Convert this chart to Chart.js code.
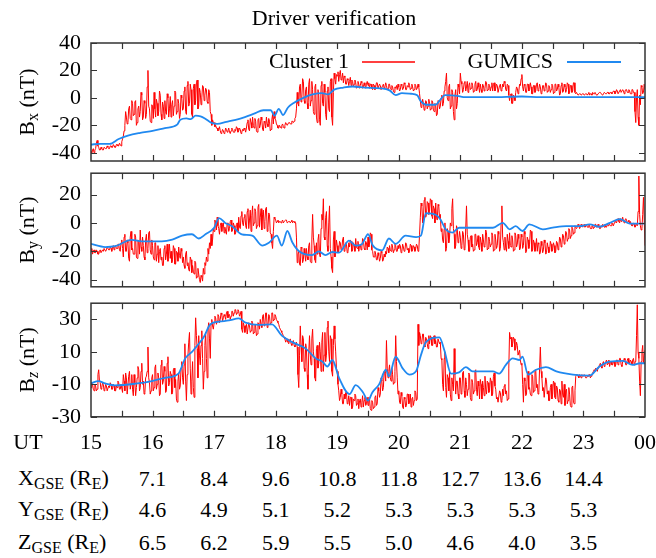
<!DOCTYPE html>
<html>
<head>
<meta charset="utf-8">
<title>Driver verification</title>
<script src="https://cdn.jsdelivr.net/npm/chart.js@4.4.0/dist/chart.umd.min.js"></script>
<style>
  html, body { margin: 0; padding: 0; background: #fff; }
  body { width: 656px; height: 558px; position: relative; overflow: hidden;
         font-family: "Liberation Serif", "DejaVu Serif", serif; color: #000; }
  canvas { position: absolute; left: 0; }
  .txt { position: absolute; font-size: 22px; line-height: 24px; white-space: nowrap; }
  .mid { transform: translate(-50%, -50%); }
  .rot { transform: translate(-50%, -50%) rotate(-90deg); }
  .sub { font-size: 16px; position: relative; top: 4px; }
</style>
</head>
<body>
<canvas id="bx" width="656" height="190" style="top:0px"></canvas>
<canvas id="by" width="656" height="160" style="top:150px"></canvas>
<canvas id="bz" width="656" height="160" style="top:280px"></canvas>
<script>
// time axis (UT hours) and the spacecraft position table
const utHours = [15, 16, 17, 18, 19, 20, 21, 22, 23, 24];
const utLabels = ['15', '16', '17', '18', '19', '20', '21', '22', '23', '00'];
const posHours = [16, 17, 18, 19, 20, 21, 22, 23];
const xGse = ['7.1', '8.4', '9.6', '10.8', '11.8', '12.7', '13.6', '14.4'];
const yGse = ['4.6', '4.9', '5.1', '5.2', '5.3', '5.3', '5.3', '5.3'];
const zGse = ['6.5', '6.2', '5.9', '5.5', '5.0', '4.6', '4.0', '3.5'];

// Cluster 1 samples, one every 0.0125 h from 15 UT (one row = half an hour)
const clusterStart = 15;
const clusterStep = 0.0125;
const clusterBx = [
  -39,-40,-38,-37,-40,-38,-37,-33,-31,-35,-36,-38,-38,-36,-37,-38,-38,-36,-36,-37,-37,-35,-36,-37,-37,-35,-35,-36,-36,-34,-35,-36,-36,-34,-34,-35,-35,-33,-34,-35,
  -32,-30,-28,-24,-20,-10,-14,-19,-18,-8,-6,-15,-16,-2,-4,-13,-12,-3,-2,-20,-18,-8,-6,-14,-10,4,2,-16,-14,-2,-4,-15,-12,8,20,-6,-8,-17,-18,-5,
  -6,-15,4,-8,-14,-1,-4,-13,-10,5,2,-12,-16,-3,-6,-15,-2,-10,-12,3,0,-14,-8,1,-14,-5,-2,-13,-6,5,4,-12,-10,-1,-4,-15,-12,2,0,-9,
  -8,5,8,-10,-12,9,12,-6,-4,10,6,-12,-14,7,10,-5,-2,11,13,-8,-6,7,4,-5,0,9,8,-2,2,7,6,-3,-4,6,4,-10,-12,-20,-16,-18,
  -18,-21,-20,-22,-22,-24,-23,-21,-24,-26,-25,-23,-24,-26,-25,-22,-23,-25,-24,-22,-25,-26,-24,-22,-23,-25,-25,-23,-24,-21,-22,-25,-24,-22,-23,-26,-25,-23,-24,-22,
  -23,-25,-22,-18,-16,-23,-24,-15,-18,-22,-14,-20,-22,-15,-17,-24,-25,-16,-15,-22,-20,-14,-16,-23,-24,-17,-18,-22,-14,-19,-21,-15,-17,-24,-23,-16,-12,-19,-10,-15,
  -16,-19,-20,-22,-22,-20,-21,-22,-20,-19,-21,-22,-20,-18,-19,-20,-20,-18,-18,-19,-19,-17,-17,-18,-17,-15,-14,-8,4,-4,-6,8,10,-3,0,14,12,-2,-4,6,
  8,-4,-8,10,14,-6,-2,12,6,-10,-12,8,10,-14,-18,6,2,-16,-20,9,12,-4,-6,10,4,-12,-16,5,8,-8,-10,12,14,-14,-20,4,18,14,10,17,
  16,19,12,17,20,13,14,18,11,16,15,10,10,14,13,9,12,15,9,13,12,8,10,13,11,7,8,12,10,7,9,12,11,7,8,11,9,7,10,12,
  9,11,7,10,10,7,6,10,9,6,8,11,11,7,7,10,9,6,6,9,10,7,8,11,9,6,7,10,10,7,6,9,8,5,4,8,7,9,6,10,
  8,5,6,10,9,6,7,11,10,6,6,9,8,11,9,6,7,10,8,5,6,10,9,6,7,10,8,3,-2,-7,-6,-1,-4,-9,-8,-2,-3,-8,-6,-1,
  -4,-9,-8,-2,-3,-9,-10,-4,-5,-13,-12,-2,-3,-8,-6,0,2,-6,-4,5,8,12,18,0,-2,8,10,-8,-6,6,4,-10,-16,2,6,-8,-4,10,8,3,
  18,12,10,4,6,11,12,5,8,12,4,9,11,6,7,11,9,4,5,10,12,5,6,11,8,4,10,6,4,10,9,5,7,12,11,5,6,10,9,5,
  8,11,5,10,11,5,7,10,9,4,4,9,10,5,6,10,8,12,11,6,5,10,9,2,-2,2,3,-4,-4,2,1,-2,4,8,7,3,5,10,9,14,
  17,8,5,10,9,4,4,10,10,5,6,11,8,3,3,9,9,4,5,10,11,5,6,10,8,3,4,9,9,5,7,11,10,4,5,9,8,4,6,10,
  9,3,4,10,10,5,6,10,8,2,3,9,11,4,5,10,8,4,6,11,10,3,4,9,9,4,5,11,11,4,3,4,3,2,2,3,3,2,2,3,
  3,2,2,3,3,2,3,4,2,3,3,2,4,3,3,4,3,2,2,3,3,4,4,3,3,2,3,4,4,3,3,4,4,3,3,4,4,3,4,5,
  5,3,4,6,5,3,3,5,6,4,4,6,5,3,5,6,6,4,4,6,5,3,3,6,6,4,4,-10,-18,0,6,-14,-20,2,-5,9,8,3,4,10,
  6
];
const clusterBy = [
  -20,-18,-22,-20,-19,-21,-21,-19,-20,-22,-22,-20,-19,-21,-21,-19,-20,-18,-18,-20,-19,-17,-17,-19,-19,-17,-18,-20,-17,-16,-19,-17,-16,-18,-18,-15,-15,-19,-20,-14,
  -12,-18,-24,-10,-8,-20,-20,-12,-14,-25,-27,-10,-6,-19,-18,-22,-22,-8,-10,-24,-25,-12,-14,-22,-5,-17,-20,-10,-16,-24,-26,-12,-8,-21,-18,-7,-6,-19,-22,-12,
  -16,-24,-26,-14,-14,-27,-22,-16,-28,-20,-18,-26,-24,-30,-30,-18,-16,-26,-22,-15,-27,-20,-15,-25,-20,-28,-26,-16,-18,-29,-29,-20,-21,-27,-17,-23,-25,-18,-20,-28,
  -24,-30,-32,-22,-20,-30,-28,-33,-34,-24,-26,-35,-30,-34,-36,-27,-28,-39,-38,-32,-36,-40,-42,-37,-38,-41,-32,-36,-28,-30,-24,-27,-18,-22,-14,-18,-8,-16,-12,-4,
  -6,2,0,-5,4,-2,-4,-8,-2,0,-6,-1,0,-7,-3,-6,-8,0,-1,-6,-4,1,2,-6,-5,0,-2,-8,-7,-1,0,-6,4,-3,-4,5,8,0,-2,4,
  6,-2,-4,8,10,-4,2,9,-6,5,12,-2,0,10,8,-4,-2,11,13,-3,4,10,-5,6,9,-4,1,10,11,-6,-3,7,6,-7,-8,-14,-18,-6,4,3,
  2,0,1,2,0,1,1,0,1,2,0,1,1,2,2,0,0,1,1,0,1,2,0,1,1,0,0,-10,-28,-22,-20,-29,-30,-17,-18,-28,-26,-18,-22,-27,
  -18,-24,-26,-16,-14,-27,-28,-12,6,-10,-16,-26,-28,-14,-22,-12,-8,-22,-24,-4,6,2,17,-10,-12,4,8,-16,-20,0,12,-18,-24,-32,-35,-12,-6,-24,-20,-12,
  -16,-21,-20,-13,-14,-19,-18,-12,-10,-20,-19,-14,-15,-21,-20,-14,-17,-12,-13,-20,-19,-14,-16,-20,-11,-17,-18,-13,-20,-16,-15,-19,-17,-11,-12,-18,-19,-13,-14,-19,
  -10,-17,-15,-7,-8,-19,-20,-24,-24,-20,-22,-26,-26,-21,-23,-27,-25,-20,-21,-27,-26,-22,-24,-20,-22,-17,-18,-21,-16,-19,-20,-15,-17,-21,-19,-15,-16,-20,-20,-16,
  -18,-15,-16,-21,-20,-15,-17,-20,-19,-14,-15,-19,-18,-21,-20,-15,-16,-20,-19,-16,-17,-20,-18,-15,-16,-20,-19,-8,4,14,12,0,2,16,18,4,6,15,14,6,
  8,17,16,5,3,12,10,0,14,4,2,13,12,3,6,-6,-4,-12,-14,-4,0,-20,-18,-4,-6,-14,-10,0,-2,10,17,-4,-8,-18,-16,-2,-4,-14,-12,-6,
  -10,-18,-16,-6,-8,-19,-18,-4,12,-8,-12,-20,-20,-10,-9,-17,-15,-20,-19,-8,-8,-16,-14,-9,-17,-19,-10,-14,-20,-8,-12,-17,-16,-5,-7,-19,-18,-10,-13,-17,
  -15,-7,-9,-20,-19,-8,-12,-18,-16,-6,-8,-20,-18,0,12,-10,-14,-19,-10,-17,-20,-8,-13,-18,-7,-16,-17,-9,-12,-20,-19,-7,-9,-17,-15,-8,-11,-19,-18,-8,
  -10,-18,-16,-6,-8,-21,-20,-10,-12,-18,-15,-5,-6,-20,-19,-12,-14,-20,-17,-11,-20,-14,-15,-22,-21,-13,-16,-21,-19,-12,-14,-22,-21,-14,-17,-21,-20,-13,-15,-20,
  -19,-14,-16,-21,-20,-13,-14,-19,-17,-10,-11,-17,-15,-8,-9,-15,-13,-6,-7,-13,-11,-4,-5,-11,-9,-3,-4,-8,-7,-2,-3,-4,-3,-1,-2,-4,-3,-1,-2,-3,
  -2,-1,-3,-2,-1,-3,-3,-1,-2,-4,-4,-2,-2,-4,-3,-1,-1,-3,-3,-1,-2,-4,-4,-2,-3,-1,-2,-3,-1,-3,-3,-1,-2,-1,-1,-2,-2,0,-1,-2,
  0,2,1,0,2,3,1,0,3,1,2,4,1,0,2,3,2,0,1,2,0,1,-1,-2,-2,0,-1,-3,-2,-1,-2,8,33,6,-2,-5,-4,6,18,2,
  -16
];
const clusterBz = [
  -12,-9,-10,-13,-14,-10,-11,-14,-13,-4,-1,-8,-9,-13,-12,-9,-10,-14,-13,-10,-11,-14,-14,-11,-12,-9,-10,-13,-13,-10,-11,-14,-14,-11,-12,-8,-9,-13,-13,-10,
  -10,-15,-4,-8,-14,-3,-6,-16,-16,-5,-2,-13,-10,-4,-13,-17,-4,-9,-17,-12,-6,1,-1,-14,-12,-2,3,-10,-8,-16,-15,-6,-5,-2,13,-6,-9,-16,-14,-6,
  -4,-14,-12,0,2,-13,-10,-3,-6,-17,-16,2,5,-10,-8,1,-2,-15,-14,3,7,-11,-9,-2,-4,-16,-15,-1,0,-12,-7,-19,-21,-8,-3,-13,-11,0,4,-6,
  -10,2,15,-8,-20,-4,8,16,22,0,-16,-8,4,-12,-18,14,31,20,12,-6,20,8,2,14,23,6,-13,-2,14,22,6,-6,24,28,18,6,27,30,26,24,
  28,32,31,27,29,33,32,28,30,34,33,29,31,33,32,30,34,35,31,33,33,30,32,35,35,32,34,36,36,33,34,36,35,32,33,35,24,22,28,26,
  22,26,27,21,21,28,26,22,23,29,28,21,22,27,26,20,21,28,27,24,30,27,25,32,33,26,27,34,34,25,26,33,32,27,28,34,34,29,30,33,
  32,30,29,28,27,25,24,23,22,21,20,19,18,16,17,18,16,15,17,18,15,14,16,17,14,13,15,16,13,-4,-12,8,26,14,4,20,18,0,-2,15,
  12,-4,-13,10,20,8,2,18,24,10,6,-6,-8,12,14,0,3,16,10,-2,16,22,-2,8,22,4,8,25,29,10,4,20,18,-2,-5,14,26,18,10,0,
  -2,-10,-14,-20,-18,-13,-16,-22,-22,-16,-19,-15,-15,-22,-21,-17,-23,-18,-18,-25,-24,-19,-20,-16,-17,-23,-22,-19,-25,-20,-19,-24,-21,-17,-24,-20,-18,-23,-22,-18,
  -23,-18,-19,-25,-26,-20,-21,-25,-24,-18,-17,-23,-22,-12,-14,-18,-16,-6,-8,-14,-12,-2,-3,-8,17,0,-6,-2,2,-6,-8,0,-4,-10,-9,-2,20,4,-6,-16,
  -14,-21,-22,-15,-17,-24,-25,-18,-19,-24,-23,-16,-16,-22,-21,-16,-24,-19,-18,-23,-20,-14,-15,-20,-19,27,14,22,20,15,16,21,21,14,13,19,18,15,12,20,
  15,20,19,14,14,19,20,15,17,13,13,18,18,15,16,6,5,-10,-14,6,10,-12,-18,-4,-6,-14,-2,-16,-20,-6,-10,-14,12,-4,-16,-8,-8,-16,-19,-6,
  -6,-16,-15,-3,-2,-14,-18,-6,-10,-17,-13,-3,-4,-18,-20,-7,-9,-16,-14,-2,-1,-13,-17,-8,-11,-19,-7,-10,-19,-8,-12,-17,-5,-13,-16,-8,-9,-15,-14,-6,
  -8,-17,-16,-5,-3,-11,-13,-19,-18,-21,-21,-14,-15,-21,-20,-13,-17,-11,-10,-16,-14,-20,-19,0,22,18,19,13,15,19,18,11,12,16,14,8,8,11,5,2,
  3,-10,-21,-6,-8,-17,-16,-4,-2,-13,-12,-16,-17,-4,-5,-15,-14,-2,-1,-12,-10,-16,-15,0,13,-2,-6,-14,-12,-18,-18,-6,-8,-16,-14,-20,-20,-12,-10,-19,
  -16,-8,-9,-18,-19,-11,-12,-20,-21,-13,-14,-22,-8,-16,-18,-10,-23,-14,-13,-22,-20,-12,-16,-23,-24,-12,-11,-21,-22,-14,-5,-4,-4,-5,-6,-4,-5,-6,-4,-5,
  -5,-4,-4,-6,-6,-5,-5,-4,-4,-6,-5,-4,-3,-2,-1,-2,0,-1,-2,0,1,2,3,1,0,3,4,1,2,4,5,2,3,5,1,3,4,2,2,4,
  4,1,2,5,5,2,3,6,6,2,1,4,4,6,5,2,2,5,6,3,3,5,4,2,5,6,2,4,4,20,39,10,6,-8,-17,4,10,14,3,8,
  11
];

// GUMICS model output (UT hours, nT)
const gumicsBxT = [15.0,15.15,15.3,15.45,15.6,15.8,16.0,16.2,16.4,16.45,16.55,16.62,16.7,16.78,16.85,16.95,
  17.05,17.2,17.35,17.5,17.65,17.8,17.92,17.98,18.05,18.12,18.2,18.3,18.45,18.6,18.75,18.85,18.95,19.1,19.25,
  19.45,19.7,19.85,19.95,20.05,20.2,20.3,20.35,20.45,20.6,20.68,20.75,20.95,21.05,21.5,22.0,22.3,23.0,24.0];
const gumicsBx = [-34,-33.5,-33.5,-30,-27.5,-25.5,-24,-22,-19.5,-16,-15,-15.5,-13,-13.5,-15,-18,
  -19,-17.5,-16,-14,-11.5,-9,-9,-13,-8,-12.5,-7,-3.5,0,2.5,3.5,2.5,6,7.5,8.3,
  7.5,7,5.5,2,3.5,3,2,-2,-5,-5,-1,2,1.5,0.5,0.5,1,0.5,0.5,0.5];

const gumicsByT = [15.0,15.23,15.39,15.66,15.83,16.15,16.32,16.48,16.64,16.75,16.86,17.0,17.08,17.18,17.29,
  17.45,17.62,17.78,17.89,18.02,18.1,18.19,18.27,18.38,18.59,18.7,18.81,18.92,19.03,19.19,19.3,19.4,19.5,
  19.58,19.73,19.84,19.95,20.11,20.28,20.36,20.44,20.6,20.68,20.76,20.87,20.98,21.2,21.53,21.69,21.8,21.9,
  22.01,22.12,22.34,22.5,22.72,22.94,23.1,23.26,23.43,23.59,23.75,24.0];
const gumicsBy = [-14.8,-17,-16.4,-12,-13,-13,-11.8,-9,-8,-11,-8,-3.4,3.4,0,-2.3,
  -8,-9,-16,-14,-9,-16,-5.7,-13.6,-20,-22.7,-20,-22.7,-20.5,-21,-12.5,-16,-15,-8,
  -16,-19.3,-11,-14.8,-9,-10,-9,6.8,5.7,2.3,-4.5,-6.8,-3.4,-3.4,-3.4,0,-4.5,-2.3,
  -5.7,-1,-4.5,-3.4,-2.3,-2.3,-1.1,-2.7,0,2.7,-0.5,-0.5];

const gumicsBzT = [15.0,15.12,15.23,15.39,15.72,15.99,16.2,16.42,16.53,16.64,16.75,16.83,16.94,17.08,17.24,
  17.4,17.51,17.73,17.94,18.1,18.27,18.49,18.65,18.76,18.84,18.92,19.03,19.2,19.3,19.42,19.5,19.57,19.68,
  19.79,19.84,19.95,20.06,20.17,20.28,20.36,20.44,20.66,20.74,20.85,20.98,21.09,21.2,21.53,21.63,21.74,
  21.85,21.96,22.01,22.1,22.23,22.39,22.56,22.83,23.1,23.26,23.43,23.64,23.8,23.92,24.0];
const gumicsBz = [-9.4,-8,-9.4,-10.6,-9.6,-8,-6,-3.4,6,10,15,19,27,28.6,29.4,
  30.6,28,26.6,27,20,16,12,6,4,1,5,-6,-16,-10.5,-15,-20,-15,-10,
  -1,-5,7,0,-4,-2,8,16,19,11,-3.4,-2.6,0.6,-2,-2,-3.4,2,
  6,5,7,-4,-1,0.6,-2,-4,-4.6,1,4,4.4,2,3,3];

const clusterColor = '#ff0000';
const gumicsColor = '#2089f0';
const font = { family: '"Liberation Serif", "DejaVu Serif", serif', size: 22 };

function sampled(values) {
  return values.map((v, i) => ({ x: clusterStart + i * clusterStep, y: v }));
}
function paired(times, values) {
  return times.map((t, i) => ({ x: t, y: values[i] }));
}

// gnuplot-style frame: solid border with inward ticks on all four sides
const framePlugin = {
  id: 'frame',
  afterDatasetsDraw(chart) {
    const { ctx, chartArea: a, scales: { x, y } } = chart;
    ctx.save();
    ctx.strokeStyle = '#333';
    ctx.lineWidth = 1.5;
    ctx.strokeRect(a.left, a.top, a.right - a.left, a.bottom - a.top);
    ctx.lineWidth = 1.2;
    ctx.beginPath();
    for (let h = 15.5; h < 24; h += 0.5) {
      const px = Math.round(x.getPixelForValue(h)) + 0.5;
      ctx.moveTo(px, a.bottom); ctx.lineTo(px, a.bottom - 6);
      ctx.moveTo(px, a.top); ctx.lineTo(px, a.top + 6);
    }
    y.ticks.forEach(t => {
      const py = Math.round(y.getPixelForValue(t.value)) + 0.5;
      ctx.moveTo(a.left, py); ctx.lineTo(a.left + 6, py);
      ctx.moveTo(a.right, py); ctx.lineTo(a.right - 6, py);
    });
    ctx.stroke();
    ctx.restore();
  }
};

// key drawn inside the top panel
const keyPlugin = {
  id: 'key',
  afterDraw(chart) {
    const ctx = chart.ctx;
    ctx.save();
    ctx.font = '22px "Liberation Serif", "DejaVu Serif", serif';
    ctx.fillStyle = '#000';
    ctx.textAlign = 'right';
    ctx.textBaseline = 'middle';
    ctx.fillText('Cluster 1', 349, 62);
    ctx.fillText('GUMICS', 553, 62);
    ctx.lineWidth = 1.5;
    ctx.strokeStyle = clusterColor;
    ctx.beginPath(); ctx.moveTo(362, 62); ctx.lineTo(415, 62); ctx.stroke();
    ctx.lineWidth = 1.8;
    ctx.strokeStyle = gumicsColor;
    ctx.beginPath(); ctx.moveTo(567, 62); ctx.lineTo(621, 62); ctx.stroke();
    ctx.restore();
  }
};

function makePanel(id, p, extra) {
  return new Chart(document.getElementById(id), {
    type: 'line',
    data: {
      datasets: [
        { label: 'GUMICS', data: paired(p.blueT, p.blue), borderColor: gumicsColor,
          borderWidth: 1.8, pointRadius: 0, cubicInterpolationMode: 'monotone', order: 0 },
        { label: 'Cluster 1', data: sampled(p.red), borderColor: clusterColor,
          borderWidth: 1, borderJoinStyle: 'round', pointRadius: 0, tension: 0, order: 1 }
      ]
    },
    options: {
      responsive: false,
      animation: false,
      devicePixelRatio: 1,
      layout: { padding: { left: 0, right: 11, top: p.padTop, bottom: p.padBottom } },
      plugins: { legend: { display: false }, tooltip: { enabled: false }, title: { display: false } },
      scales: {
        x: { type: 'linear', min: 15, max: 24, display: false },
        y: {
          min: p.min, max: p.max,
          grid: { display: false, drawTicks: false },
          border: { display: false },
          ticks: { font: font, color: '#000', padding: 10 },
          afterBuildTicks: s => { s.ticks = p.ticks.map(v => ({ value: v })); },
          afterFit: s => { s.width = 91; }
        }
      }
    },
    plugins: [framePlugin].concat(extra || [])
  });
}

const chartBx = makePanel('bx', { red: clusterBx, blueT: gumicsBxT, blue: gumicsBx,
  min: -46, max: 40, ticks: [40, 20, 0, -20, -40], padTop: 43, padBottom: 29 }, [keyPlugin]);
const chartBy = makePanel('by', { red: clusterBy, blueT: gumicsByT, blue: gumicsBy,
  min: -45, max: 35, ticks: [20, 0, -20, -40], padTop: 23, padBottom: 20 });
const chartBz = makePanel('bz', { red: clusterBz, blueT: gumicsBzT, blue: gumicsBz,
  min: -30, max: 40, ticks: [30, 10, -10, -30], padTop: 23, padBottom: 19 });

// text placed around the panels
function addText(html, x, y, cls) {
  const d = document.createElement('div');
  d.className = 'txt ' + cls;
  d.innerHTML = html;
  d.style.left = x + 'px';
  d.style.top = y + 'px';
  document.body.appendChild(d);
  return d;
}

addText('Driver verification', 334, 18, 'mid');

const yTitles = [
  [chartBx, 0, 'B<span class="sub">x</span> (nT)'],
  [chartBy, 150, 'B<span class="sub">y</span> (nT)'],
  [chartBz, 280, 'B<span class="sub"><i>z</i></span> (nT)']
];
yTitles.forEach(([c, off, html]) => {
  const a = c.chartArea;
  addText(html, 28, off + (a.top + a.bottom) / 2, 'rot');
});

const xs = chartBz.scales.x;
addText('UT', 28, 442, 'mid');
utHours.forEach((h, i) => addText(utLabels[i], xs.getPixelForValue(h), 442, 'mid'));

const rows = [
  ['X', xGse, 479],
  ['Y', yGse, 510],
  ['Z', zGse, 543]
];
rows.forEach(([axis, vals, yc]) => {
  const lab = addText(axis + '<span class="sub">GSE</span> (R<span class="sub">E</span>)', 18, yc, '');
  lab.style.transform = 'translateY(-50%)';
  posHours.forEach((h, i) => addText(vals[i], xs.getPixelForValue(h), yc, 'mid'));
});
</script>
</body>
</html>
